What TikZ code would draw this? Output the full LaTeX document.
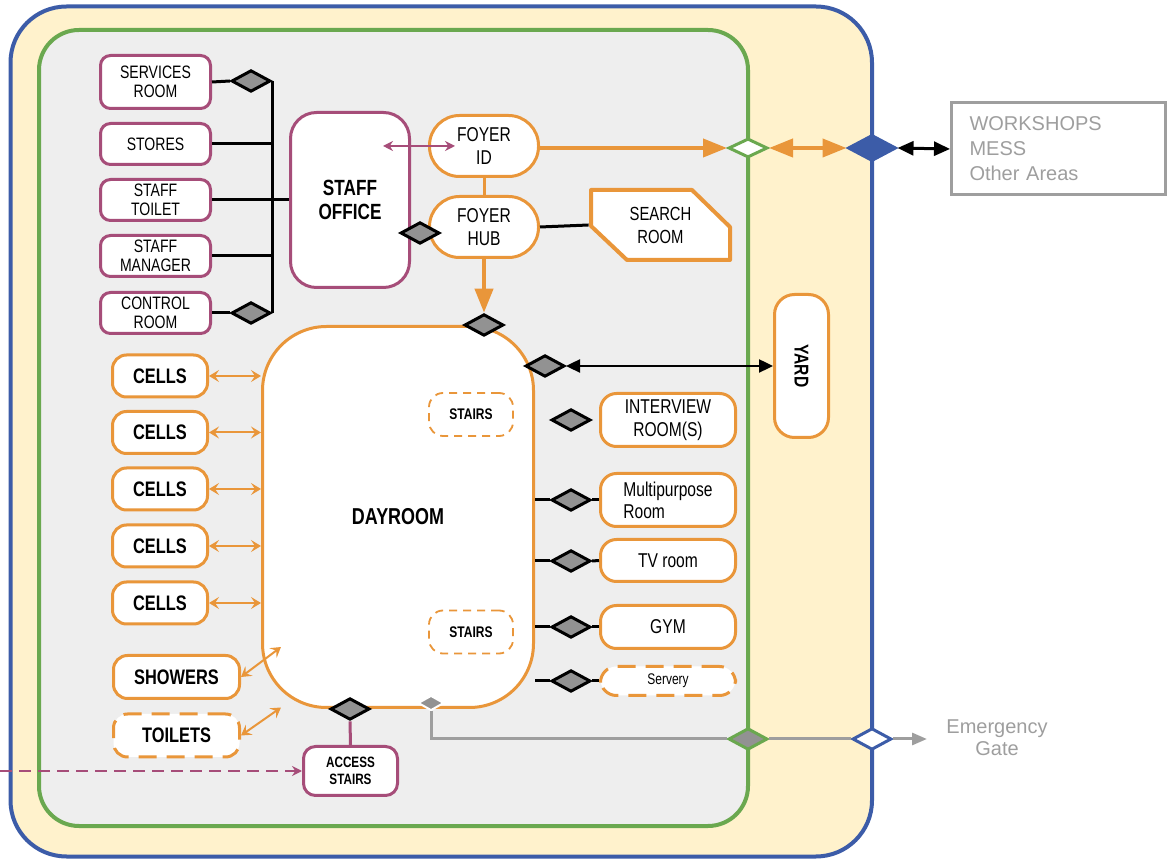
\documentclass[tikz,border=0pt]{standalone}
\usepackage{fontspec}
\usepackage{graphicx}
\setmainfont{Liberation Sans}
\newfontfamily\condsans[FakeStretch=0.78]{Liberation Sans}
\usetikzlibrary{shapes.geometric,arrows.meta}

\definecolor{wallblue}{HTML}{3C5CA8}
\definecolor{yardcream}{HTML}{FFF2CC}
\definecolor{unitgreen}{HTML}{6AA84F}
\definecolor{floorgray}{HTML}{EEEEEE}
\definecolor{staffpurple}{HTML}{A64D79}
\definecolor{unitorange}{HTML}{E9963A}
\definecolor{doorgray}{HTML}{929292}
\definecolor{extgray}{HTML}{9E9E9E}

\begin{document}
\begin{tikzpicture}[x=0.5pt, y=-0.5pt,
    staffbox/.style={draw=staffpurple, line width=1.5pt, fill=white, rounded corners=5pt,
      minimum width=55pt, minimum height=20.5pt, inner sep=1pt, align=center,
      font=\condsans\fontsize{9}{9.7}\selectfont},
    roombox/.style={draw=unitorange, line width=1.5pt, fill=white, rounded corners=8pt,
      minimum width=67.5pt, inner sep=1pt, align=center,
      font=\condsans\fontsize{10}{11.3}\selectfont},
    cellbox/.style={draw=unitorange, line width=1.5pt, fill=white, rounded corners=7pt,
      minimum width=47.5pt, minimum height=21pt, inner sep=1pt,
      font=\condsans\bfseries\fontsize{10.5}{12}\selectfont},
    dashedbox/.style={dash pattern=on 9pt off 5pt},
    stairbox/.style={draw=unitorange, line width=0.9pt, dash pattern=on 4pt off 3pt, fill=white,
      rounded corners=7pt, minimum width=42pt, minimum height=21.5pt, inner sep=1pt,
      font=\condsans\bfseries\fontsize{7.7}{9}\selectfont},
    door/.style={diamond, draw=black, fill=doorgray, line width=1.5pt,
      minimum width=19.5pt, minimum height=10.8pt, inner sep=0pt},
    link/.style={line width=1.5pt},
    cellarrow/.style={draw=unitorange, line width=1pt,
      {Stealth[length=5pt,width=6pt,inset=2pt]}-{Stealth[length=5pt,width=6pt,inset=2pt]}},
    bigarrow/.style={draw=unitorange, line width=2pt},
    exitline/.style={draw=extgray, line width=1.5pt}
  ]
  \useasboundingbox (0,0) rectangle (1168,860);

  % Secure perimeter and unit walls
  \draw[wallblue, fill=yardcream, line width=2pt, rounded corners=28pt] (10.5,6.5) rectangle (872,856.5);
  \draw[unitgreen, fill=floorgray, line width=2pt, rounded corners=20pt] (39,30) rectangle (748,826);

  % Staff rooms
  \node[staffbox, minimum height=26.5pt] (services) at (155.5,82) {SERVICES\\ROOM};
  \node[staffbox] (stores) at (155.5,144) {STORES};
  \node[staffbox] (staffToilet) at (155.5,200) {STAFF\\TOILET};
  \node[staffbox] (staffManager) at (155.5,256) {STAFF\\MANAGER};
  \node[staffbox] (control) at (155.5,313) {CONTROL\\ROOM};
  \node[staffbox, minimum width=59.5pt, minimum height=87.5pt, rounded corners=13pt,
    font=\condsans\bfseries\fontsize{11}{12}\selectfont] (office) at (350,200) {STAFF\\OFFICE};

  % Foyer and search room
  \node[roombox, minimum width=54.5pt, minimum height=30.5pt, rounded corners=15pt] (foyerID) at (484,146) {FOYER\\ID};
  \node[roombox, minimum width=54.5pt, minimum height=30.5pt, rounded corners=15pt] (foyerHub) at (484,227) {FOYER\\HUB};
  \draw[unitorange, line width=2pt, fill=white, line join=round] (591,190) -- (692,190) -- (730,227) -- (730,260) -- (627,260) -- (591,226) -- cycle;
  \node[minimum width=71.5pt, minimum height=36pt, inner sep=0pt, align=center,
    font=\condsans\fontsize{9.5}{11.5}\selectfont] (search) at (660.5,225) {SEARCH\\ROOM};

  % Dayroom
  \node[roombox, minimum width=135.5pt, minimum height=190.5pt, rounded corners=32pt,
    font=\condsans\bfseries\fontsize{11.5}{13}\selectfont] (dayroom) at (398,517) {DAYROOM};
  \node[stairbox] (stairsUp) at (471,414.5) {STAIRS};
  \node[stairbox] (stairsDown) at (471,632) {STAIRS};

  % Cells, showers and toilets
  \node[cellbox] (cellA) at (160,376) {CELLS};
  \node[cellbox] (cellB) at (160,432.5) {CELLS};
  \node[cellbox] (cellC) at (160,489) {CELLS};
  \node[cellbox] (cellD) at (160,546) {CELLS};
  \node[cellbox] (cellE) at (160,603) {CELLS};
  \node[cellbox, minimum width=63pt, minimum height=21.5pt] (showers) at (176.5,677) {SHOWERS};
  \node[cellbox, dashedbox, minimum width=63pt, minimum height=21.5pt] (toilets) at (176.5,735.5) {TOILETS};

  % Rooms off the dayroom
  \node[roombox, minimum height=26.5pt] (interview) at (668,420) {INTERVIEW\\ROOM(S)};
  \node[roombox, minimum height=26.5pt, align=left, font=\condsans\fontsize{10}{11}\selectfont] (multi) at (668,500) {Multipurpose\\Room};
  \node[roombox, minimum height=21pt] (tvRoom) at (668,560.5) {TV room};
  \node[roombox, minimum height=21.5pt] (gym) at (668,627) {GYM};
  \node[roombox, dashedbox, minimum height=14.5pt, font=\condsans\fontsize{7.7}{9}\selectfont] (servery) at (668,681) {Servery};
  \node[roombox, minimum width=27pt, minimum height=71.5pt, rounded corners=10pt,
    font=\condsans\bfseries\fontsize{10}{12}\selectfont] (yard) at (801.5,366) {\rotatebox{-90}{YARD}};
  \node[staffbox, minimum width=47pt, minimum height=24.5pt, rounded corners=6pt,
    font=\condsans\bfseries\fontsize{7.5}{8.8}\selectfont] (access) at (350.5,771) {ACCESS\\STAIRS};

  % Outside areas
  \node[draw=extgray, line width=1.5pt, minimum width=107pt, minimum height=46pt, inner xsep=9pt,
    text width=89pt, align=left, text=extgray, font=\fontsize{10}{12.5}\selectfont] (workshops) at (1058.5,149) {WORKSHOPS\\MESS\\Other Areas};
  \node[align=center, text=extgray, font=\fontsize{10}{11}\selectfont] (gate) at (997,738) {Emergency\\Gate};

  % Doors
  \node[door] (dServices) at (251,81) {};
  \node[door] (dControl) at (251,313) {};
  \node[door] (dOffice) at (420,233) {};
  \node[door] (dDayTop) at (484,325) {};
  \node[door] (dYard) at (545,366) {};
  \node[door] (dInterview) at (571,420) {};
  \node[door] (dMulti) at (571,500) {};
  \node[door] (dTv) at (571,561) {};
  \node[door] (dGym) at (571,627) {};
  \node[door] (dServery) at (571,681) {};
  \node[door] (dDayBottom) at (350,709) {};
  \node[door, draw=white, line width=1pt, minimum width=13pt, minimum height=7.5pt] (dExit) at (431,703) {};

  % Gates in the walls
  \node[door, draw=unitgreen, fill=white, minimum height=9.5pt] (gateInner) at (748,148) {};
  \node[door, draw=wallblue, fill=wallblue, minimum width=24pt, minimum height=13pt] (gateOuter) at (872,148) {};
  \node[door, draw=unitgreen] (gateEmInner) at (748,739) {};
  \node[door, draw=wallblue, fill=white] (gateEmOuter) at (872,739) {};
  \coordinate (gateEnd) at (927,739);
  \coordinate (extAccess) at (0,771);

  % Staff connections
  \draw[link] (services.east) -- (dServices.west);
  \draw[link] (dServices.east) -- (dControl.east);  % bus
  \draw[link] (stores.east) -- (stores.east -| dServices.east);
  \draw[link] (staffToilet.east) -- (office.west);
  \draw[link] (staffManager.east) -- (staffManager.east -| dServices.east);
  \draw[link] (control.east) -- (dControl.west);
  \coordinate (officeIn) at ([xshift=-14pt]office.east);
  \coordinate (foyerIn) at ([xshift=13.5pt]foyerID.west);
  \draw[staffpurple, line width=1pt, {Stealth[length=5pt,width=5pt]}-{Stealth[length=5pt,width=5pt]}] (officeIn |- foyerID.west) -- (foyerIn);

  % Foyer connections
  \draw[unitorange, line width=1.5pt] (foyerID.south) -- (foyerHub.north);
  \draw[link] (foyerHub.east) -- (search.west);
  \draw[bigarrow, -{Triangle[length=12pt,width=9pt]}] (foyerHub.south) -- (dDayTop.north);
  \draw[bigarrow, -{Triangle[length=12pt,width=9pt]}] (foyerID.east |- gateInner.west) -- (gateInner.west);
  \draw[bigarrow, {Triangle[length=12pt,width=9pt]}-{Triangle[length=12pt,width=9pt]}] (gateInner.east) -- (gateOuter.west);
  \draw[line width=1.5pt, {Triangle[length=8pt,width=7pt]}-{Triangle[length=8pt,width=7pt]}] (gateOuter.east) -- (workshops.west);

  % Dayroom connections
  \draw[cellarrow] (cellA.east) -- (cellA.east -| dayroom.west);
  \draw[cellarrow] (cellB.east) -- (cellB.east -| dayroom.west);
  \draw[cellarrow] (cellC.east) -- (cellC.east -| dayroom.west);
  \draw[cellarrow] (cellD.east) -- (cellD.east -| dayroom.west);
  \draw[cellarrow] (cellE.east) -- (cellE.east -| dayroom.west);
  \coordinate (showersIn) at ([shift={(20pt,15pt)}]showers.east);
  \coordinate (toiletsIn) at ([shift={(20pt,14pt)}]toilets.east);
  \draw[cellarrow] (showers.east) -- (showersIn);
  \draw[cellarrow] (toilets.east) -- (toiletsIn);
  \draw[line width=1.2pt, {Triangle[length=7pt,width=6.5pt]}-{Triangle[length=7pt,width=6.5pt]}] (dYard.east) -- (yard.west);
  \draw[link] (dMulti.west -| dayroom.east) -- (dMulti.west);
  \draw[link] (dMulti.east) -- (multi.west);
  \draw[link] (dTv.west -| dayroom.east) -- (dTv.west);
  \draw[link] (dTv.east) -- (tvRoom.west);
  \draw[link] (dGym.west -| dayroom.east) -- (dGym.west);
  \draw[link] (dGym.east) -- (gym.west);
  \draw[link] (dServery.west -| dayroom.east) -- (dServery.west);
  \draw[link] (dServery.east) -- (servery.west);

  % Access stairs and emergency exit
  \draw[staffpurple, line width=1.5pt] (dDayBottom.south) -- (access.north);
  \draw[staffpurple, line width=1pt, dash pattern=on 6pt off 3.5pt, -{Stealth[length=5pt,width=5pt]}] (extAccess) -- (access.west);
  \draw[exitline] (dExit.south) |- (gateEmInner.west);
  \draw[exitline] (gateEmInner.east) -- (gateEmOuter.west);
  \draw[exitline, -{Triangle[length=7.5pt,width=6pt]}] (gateEmOuter.east) -- (gateEnd);
\end{tikzpicture}
\end{document}
